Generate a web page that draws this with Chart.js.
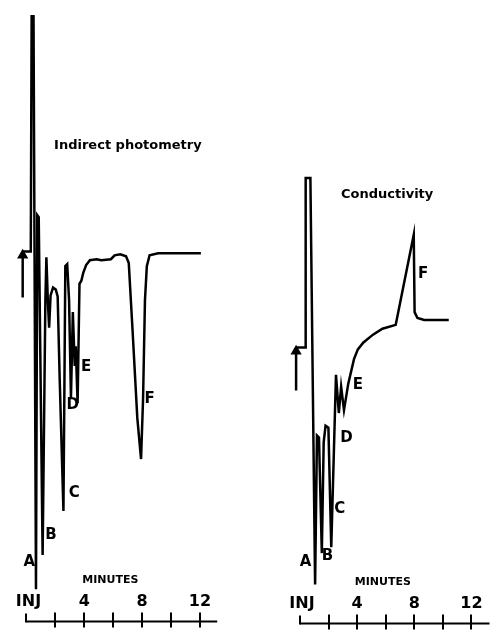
<!DOCTYPE html>
<html>
<head>
<meta charset="utf-8">
<title>Indirect photometry vs conductivity</title>
<script src="https://cdn.jsdelivr.net/npm/chart.js@4.4.1/dist/chart.umd.min.js"></script>
<style>
  html, body { margin: 0; padding: 0; background: #fff; }
  #wrap { display: flex; width: 496px; height: 636px; }
  canvas { display: block; }
</style>
</head>
<body>
<div id="wrap">
  <canvas id="photoChart" width="248" height="636"></canvas>
  <canvas id="condChart" width="248" height="636"></canvas>
</div>
<script>
// --- data (minutes after injection, detector response in arbitrary units) ---
const photoMinutes = [-0.26, 0.30, 0.36, 0.49, 0.66, 0.75, 0.85, 1.12, 1.31, 1.38, 1.48, 1.57, 1.67, 1.84, 2.03, 2.16,
  2.30, 2.56, 2.62, 2.69, 2.82, 2.95, 3.08, 3.21, 3.34, 3.41, 3.54, 3.67, 3.80, 3.93, 4.13, 4.39, 4.85, 5.18,
  5.84, 6.10, 6.49, 6.89, 7.08, 7.34, 7.67, 7.93, 8.07, 8.20, 8.33, 8.52, 9.11, 12.07];
const photoResponse = [0.2, 0.2, 24.2, 24.2, -34.3, 3.9, 3.7, -30.8, -4.8, -0.4, -4.8, -7.6, -4.3, -3.5, -3.7, -4.4,
  -12.8, -26.3, -14.8, -1.3, -1.1, -4.8, -14.8, -6.0, -11.5, -9.5, -15.3, -3.1, -2.8, -2.0, -1.2, -0.7, -0.6, -0.7,
  -0.6, -0.2, -0.1, -0.3, -1.0, -7.8, -16.8, -21.0, -14.8, -4.8, -1.3, -0.2, 0, 0];

const condMinutes = [-0.27, 0.40, 0.40, 0.73, 1.06, 1.19, 1.33, 1.53, 1.66, 1.79, 1.99, 2.19, 2.52, 2.72, 2.88,
  3.08, 3.38, 3.78, 4.05, 4.44, 5.11, 5.77, 6.70, 7.96, 8.02, 8.22, 8.69, 10.41];
const condResponse = [-2.8, -2.8, 14.5, 14.5, -27.0, -11.8, -12.0, -23.8, -12.5, -10.8, -11.0, -23.2, -5.6, -9.5, -6.8,
  -9.2, -6.5, -4.0, -3.0, -2.3, -1.5, -0.9, -0.5, 8.7, 0.8, 0.2, 0, 0];

// injection arrows
const photoArrowMinutes = [-0.26, -0.26];
const photoArrowResponse = [-4.5, -0.2];
const condArrowMinutes = [-0.27, -0.27];
const condArrowResponse = [-7.2, -3.2];

// time axis
const tickMinutes = [0, 2, 4, 6, 8, 10, 12];
const labelMinutes = [0, 4, 8, 12];
const tickLabels = ['INJ', '4', '8', '12'];

// peak letters (label anchor in minutes / response)
const peakNames = ['A', 'B', 'C', 'D', 'E', 'F'];
const photoPeakMinutes = [0.20, 1.70, 3.30, 3.21, 4.13, 8.52];
const photoPeakLevels = [-31.5, -28.8, -24.5, -15.5, -11.6, -14.9];
const condPeakMinutes = [0.40, 1.92, 2.79, 3.25, 4.05, 8.62];
const condPeakLevels = [-24.7, -24.1, -19.3, -12.1, -6.7, 4.7];

const toPoints = (xs, ys) => xs.map((m, i) => ({ x: m, y: ys[i] }));

// axis, letters and titles drawn through the chart's own scales
const chromAnnotations = {
  id: 'chromAnnotations',
  afterDatasetsDraw(chart, args, opts) {
    const ctx = chart.ctx;
    const sx = chart.scales.x, sy = chart.scales.y;
    const axisY = chart.chartArea.bottom - opts.axisOffset;
    ctx.save();
    ctx.strokeStyle = '#000';
    ctx.fillStyle = '#000';
    ctx.lineWidth = 2;

    ctx.beginPath();
    ctx.moveTo(sx.getPixelForValue(0), axisY);
    ctx.lineTo(sx.getPixelForValue(opts.axisEnd), axisY);
    ctx.stroke();

    tickMinutes.forEach(m => {
      const px = Math.round(sx.getPixelForValue(m));
      ctx.beginPath();
      if (m === 0) {
        ctx.moveTo(px, axisY - 8);
        ctx.lineTo(px, axisY + 1);
      } else {
        ctx.moveTo(px, axisY - 9);
        ctx.lineTo(px, axisY + 6);
      }
      ctx.stroke();
    });

    ctx.textAlign = 'center';
    ctx.textBaseline = 'middle';
    ctx.font = 'bold 16px "DejaVu Sans"';
    labelMinutes.forEach((m, i) => {
      const shift = m === 0 ? 2 : 0;
      ctx.fillText(tickLabels[i], sx.getPixelForValue(m) + shift, axisY - 20);
    });

    ctx.font = 'bold 11px "DejaVu Sans"';
    ctx.fillText('MINUTES', sx.getPixelForValue(5.8), axisY - 41);

    ctx.font = 'bold 15px "DejaVu Sans"';
    peakNames.forEach((name, i) => {
      ctx.fillText(name, sx.getPixelForValue(opts.peakMinutes[i]), sy.getPixelForValue(opts.peakLevels[i]));
    });

    ctx.font = 'bold 13px "DejaVu Sans"';
    ctx.fillText(opts.title, sx.getPixelForValue(opts.titleAt[0]), sy.getPixelForValue(opts.titleAt[1]));
    ctx.restore();
  }
};

function makeChart(id, trace, arrow, xRange, yRange, annot) {
  return new Chart(document.getElementById(id), {
    type: 'line',
    data: {
      datasets: [
        {
          data: trace,
          borderColor: '#000',
          borderWidth: 2.5,
          pointRadius: 0,
          tension: 0,
          borderJoinStyle: 'miter'
        },
        {
          data: arrow,
          borderColor: '#000',
          backgroundColor: '#000',
          borderWidth: 2.5,
          pointStyle: 'triangle',
          pointRadius: [0, 4],
          tension: 0
        }
      ]
    },
    options: {
      responsive: false,
      animation: false,
      events: [],
      layout: { padding: 0 },
      plugins: {
        legend: { display: false },
        tooltip: { enabled: false },
        chromAnnotations: annot
      },
      scales: {
        x: { type: 'linear', min: xRange[0], max: xRange[1], display: false },
        y: { type: 'linear', min: yRange[0], max: yRange[1], display: false }
      }
    },
    plugins: [chromAnnotations]
  });
}

makeChart('photoChart',
  toPoints(photoMinutes, photoResponse),
  toPoints(photoArrowMinutes, photoArrowResponse),
  [-1.38, 14.88], [-38.4, 25.2],
  {
    axisOffset: 8, axisEnd: 13.2,
    peakMinutes: photoPeakMinutes, peakLevels: photoPeakLevels,
    title: 'Indirect photometry', titleAt: [7.02, 11.0]
  });

makeChart('condChart',
  toPoints(condMinutes, condResponse),
  toPoints(condArrowMinutes, condArrowResponse),
  [-3.18, 13.26], [-31.6, 32.0],
  {
    axisOffset: 6, axisEnd: 13.26,
    peakMinutes: condPeakMinutes, peakLevels: condPeakLevels,
    title: 'Conductivity', titleAt: [6.10, 12.8]
  });
</script>
</body>
</html>
